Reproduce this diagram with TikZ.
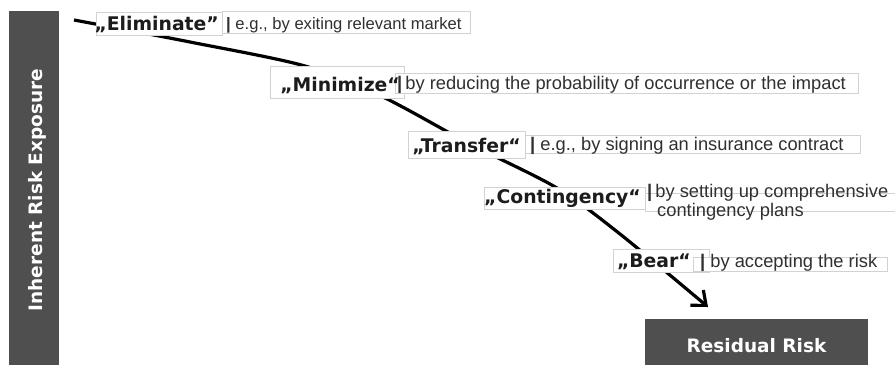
\documentclass[tikz,border=0pt]{standalone}
\usepackage{fontspec}
\setmainfont{Liberation Sans}
\newfontfamily\headfont{DejaVu Sans}
\usetikzlibrary{arrows.meta}
\definecolor{barfill}{HTML}{4F4F4F}
\definecolor{boxline}{HTML}{D2D2D2}
\definecolor{inkdark}{HTML}{1C1C1C}
\definecolor{inkdesc}{HTML}{303030}
\newcommand{\sepbar}{\textbf{|}}

\begin{document}
\begin{tikzpicture}[x=1pt,y=-1pt,
  panel/.style={fill=barfill, draw=none, inner sep=0pt},
  tagbox/.style={draw=boxline, fill=white, line width=0.9pt},
  tagtext/.style={inner sep=0pt, text=inkdark, font=\headfont\bfseries\fontsize{18.8}{22}\selectfont},
  desctext/.style={inner sep=0pt, text=inkdesc, font=\fontsize{18.3}{21}\selectfont},
  smalldesc/.style={desctext, font=\fontsize{16.6}{20}\selectfont},
  paneltext/.style={inner sep=0pt, text=white, font=\headfont\bfseries\fontsize{18.5}{22}\selectfont},
  flow/.style={line width=3.2pt, -{Straight Barb[length=12pt,width=20pt]}}]

\useasboundingbox (0,0) rectangle (895,365);

% side panel and result box
\node[panel, minimum width=50pt, minimum height=354pt, anchor=north west] (inherent) at (9,11) {};
\node[paneltext, rotate=90, anchor=base] (inherentText) at (42.5,190) {Inherent Risk Exposure};
\node[panel, minimum width=223pt, minimum height=46pt, anchor=north west] (residual) at (645,319) {};
\node[paneltext, anchor=base] (residualText) at (756.5,352) {Residual Risk};

% the risk path, running behind the strategy tags
\coordinate (flowstart) at (74,20);
\coordinate (via1) at (190,42);
\coordinate (via2) at (305,66);
\coordinate (via3) at (383,97);
\coordinate (via4) at (470,144);
\coordinate (via5) at (557,188);
\coordinate (via6) at (620,234);
\coordinate (flowend) at (708,307);
\draw[flow] plot[smooth, tension=0.5] coordinates {(flowstart) (via1) (via2) (via3) (via4) (via5) (via6) (flowend)};

% Eliminate
\draw[tagbox] (96,12) rectangle (222,35);
\draw[tagbox] (222,11) rectangle (470,33);
\node[tagtext, anchor=base east] (elimTag) at (219,30) {„Eliminate”};
\node[smalldesc, anchor=base west] (elimDesc) at (226,29) {\sepbar{} e.g., by exiting relevant market};

% Minimize
\draw[tagbox] (270,66) rectangle (404,98);
\draw[tagbox] (395,73) rectangle (858,93);
\node[tagtext, anchor=base east] (minTag) at (400,91) {„Minimize“};
\node[desctext, anchor=base west] (minDesc) at (397,89) {\sepbar\,by reducing the probability of occurrence or the impact};

% Transfer
\draw[tagbox] (408,131) rectangle (525,158);
\draw[tagbox] (525,135) rectangle (860,153);
\node[tagtext, anchor=base east] (transTag) at (521,152) {„Transfer“};
\node[desctext, anchor=base west] (transDesc) at (530,150) {\sepbar{} e.g., by signing an insurance contract};

% Contingency
\draw[tagbox] (484,187) rectangle (645,209);
\draw[tagbox] (645,193) rectangle (896,211);
\node[tagtext, anchor=base east] (contTag) at (641,203) {„Contingency“};
\node[desctext, anchor=base west] (contDescA) at (647,197) {\sepbar\,by setting up comprehensive};
\node[desctext, anchor=base west] (contDescB) at (657,216) {contingency plans};

% Bear
\draw[tagbox] (613,249) rectangle (709,272);
\draw[tagbox] (693,257) rectangle (887,271);
\node[tagtext, anchor=base east] (bearTag) at (691,267) {„Bear“};
\node[desctext, anchor=base west] (bearDesc) at (700,267) {\sepbar{} by accepting the risk};
\end{tikzpicture}
\end{document}
